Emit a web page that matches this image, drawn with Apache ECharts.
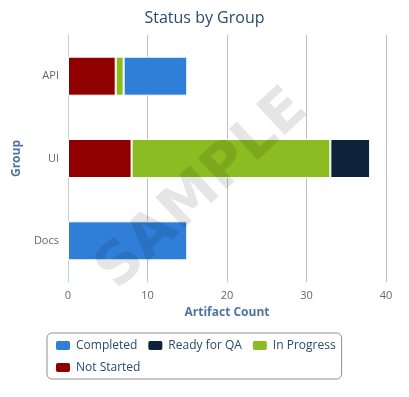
<!DOCTYPE html>
<html>
<head>
<meta charset="utf-8">
<script src="https://cdn.jsdelivr.net/npm/echarts@6/dist/echarts.min.js"></script>
<style>
  html, body { margin: 0; padding: 0; background: #fff; }
  #container { width: 409px; height: 397px; }
</style>
</head>
<body>
<div id="container"></div>
<script>
var groups = ['Docs', 'UI', 'API'];
var notStarted = [0, 8, 6];
var inProgress = [0, 25, 1];
var readyForQA = [0, 5, 0];
var completed = [15, 0, 8];
var xTicks = [0, 10, 20, 30, 40];

var font = 'Open Sans';

function bar(name, values, color) {
    return {
        name: name,
        type: 'bar',
        stack: 'total',
        data: values.map(function (v) { return v === 0 ? null : v; }),
        barWidth: 39,
        itemStyle: { color: color, borderColor: '#fff', borderWidth: 1 }
    };
}

var chart = echarts.init(document.getElementById('container'));
var option = {
    animation: false,
    textStyle: { fontFamily: font },
    title: {
        text: 'Status by Group',
        left: 'center',
        top: 5,
        textStyle: { color: '#274b6d', fontSize: 16, fontWeight: 'normal', fontFamily: font }
    },
    grid: { left: 68, right: 23, top: 35, bottom: 115 },
    xAxis: {
        type: 'value',
        min: xTicks[0],
        max: xTicks[xTicks.length - 1],
        interval: 10,
        name: 'Artifact Count',
        nameLocation: 'middle',
        nameGap: 25,
        nameTextStyle: { color: '#4d759e', fontWeight: 'bold', fontSize: 12 },
        axisLine: { show: false },
        axisTick: { show: false },
        axisLabel: { color: '#666', fontSize: 11, margin: 8 },
        splitLine: { lineStyle: { color: '#c0c0c0' } }
    },
    yAxis: {
        type: 'category',
        data: groups,
        name: 'Group',
        nameLocation: 'middle',
        nameGap: 37,
        nameTextStyle: { color: '#4d759e', fontWeight: 'bold', fontSize: 12 },
        axisLine: { lineStyle: { color: '#c0d0e0' } },
        axisTick: { length: 5, lineStyle: { color: '#c0d0e0' } },
        axisLabel: { color: '#666', fontSize: 11, margin: 9 }
    },
    legend: {
        data: ['Completed', 'Ready for QA', 'In Progress', 'Not Started'],
        left: 47,
        top: 333,
        width: 285,
        padding: [6, 6, 5, 7],
        itemWidth: 16,
        itemHeight: 11,
        itemGap: 9,
        icon: 'roundRect',
        borderColor: '#909090',
        borderWidth: 1,
        borderRadius: 5,
        textStyle: { color: '#274b6d', fontSize: 12 }
    },
    graphic: [{
        type: 'text',
        z: 100,
        x: 203,
        y: 190,
        rotation: Math.PI / 4.2,
        style: {
            text: 'SAMPLE',
            fill: 'rgba(0,0,0,0.1)',
            font: 'bold 58px "DejaVu Sans"',
            textAlign: 'center',
            textVerticalAlign: 'middle'
        }
    }],
    series: [
        bar('Not Started', notStarted, '#910000'),
        bar('In Progress', inProgress, '#8bbc21'),
        bar('Ready for QA', readyForQA, '#0d233a'),
        bar('Completed', completed, '#2f7ed8')
    ]
};
chart.setOption(option);
</script>
</body>
</html>
